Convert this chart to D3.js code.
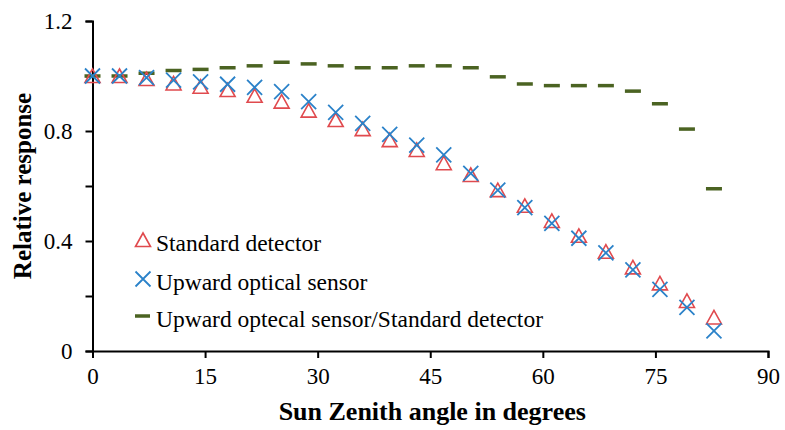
<!DOCTYPE html>
<html>
<head>
<meta charset="utf-8">
<script src="https://cdn.jsdelivr.net/npm/d3@7"></script>
</head>
<body style="margin:0">
<svg id="chart" width="785" height="430"></svg>
<script>
// sun zenith angles (degrees)
var angles = [0, 3.6, 7.2, 10.8, 14.4, 18, 21.6, 25.2, 28.8, 32.4, 36, 39.6,
              43.2, 46.8, 50.4, 54, 57.6, 61.2, 64.8, 68.4, 72, 75.6, 79.2, 82.8];
var standardDetector = [1.0, 1.0, 0.989, 0.973, 0.961, 0.949, 0.928, 0.907, 0.874, 0.840, 0.807, 0.767,
                        0.731, 0.683, 0.640, 0.585, 0.528, 0.473, 0.419, 0.361, 0.304, 0.246, 0.182, 0.122];
var upwardSensor = [1.0, 1.0, 0.994, 0.985, 0.979, 0.970, 0.959, 0.943, 0.907, 0.868, 0.828, 0.788,
                    0.749, 0.713, 0.646, 0.585, 0.521, 0.464, 0.410, 0.357, 0.295, 0.224, 0.159, 0.073];
var ratio = [1.0, 1.0, 1.01, 1.02, 1.024, 1.03, 1.037, 1.05, 1.044, 1.037, 1.03, 1.03,
             1.037, 1.037, 1.03, 0.997, 0.971, 0.965, 0.965, 0.965, 0.945, 0.899, 0.807, 0.59];
var xTicks = [0, 15, 30, 45, 60, 75, 90];
var yTicks = [0, 0.2, 0.4, 0.6, 0.8, 1.0, 1.2];
var yLabelled = [0, 0.4, 0.8, 1.2];
var seriesNames = ["Standard detector", "Upward optical sensor", "Upward optecal sensor/Standard detector"];

var RED = "#e04a4e", BLUE = "#2b82c9", GREEN = "#4b6322";

var svg = d3.select("#chart");
var x = d3.scaleLinear().domain([0, 90]).range([92.5, 768]);
var y = d3.scaleLinear().domain([0, 1.2]).range([351, 21]);

var setFont = function(sel, size, weight) {
    sel.style("font-family", function() { return "Times New Roman"; })
       .style("font-size", size + "px")
       .style("font-weight", weight || "normal");
}

// axes
var xAxis = d3.axisBottom(x).tickValues(xTicks).tickSize(7).tickPadding(10).tickFormat(d3.format("d"));
var gx = svg.append("g").attr("transform", "translate(0," + y(0) + ")").call(xAxis);
gx.select(".domain").attr("stroke", "#000").attr("stroke-width", 2);
gx.selectAll(".tick line").attr("stroke", "#000").attr("stroke-width", 2);
gx.selectAll(".tick text").attr("fill", "#000").call(setFont, 23);

var yAxis = d3.axisLeft(y).tickValues(yTicks).tickSize(7).tickPadding(13)
    .tickFormat(function(d) { return yLabelled.some(function(v) { return Math.abs(v - d) < 1e-9; }) ? d3.format("~g")(d) : ""; });
var gy = svg.append("g").attr("transform", "translate(" + x(0) + ",0)").call(yAxis);
gy.select(".domain").attr("stroke", "#000").attr("stroke-width", 2);
gy.selectAll(".tick line").attr("stroke", "#000").attr("stroke-width", 2);
gy.selectAll(".tick text").attr("fill", "#000").call(setFont, 23);

// marker shapes
var triPath = function(cx, cy) {
    return "M" + cx + "," + (cy - 7) + "L" + (cx + 7.5) + "," + (cy + 6.5) + "L" + (cx - 7.5) + "," + (cy + 6.5) + "Z";
}
var crossPath = function(cx, cy) {
    var s = 7.5;
    return "M" + (cx - s) + "," + (cy - s) + "L" + (cx + s) + "," + (cy + s) +
           "M" + (cx - s) + "," + (cy + s) + "L" + (cx + s) + "," + (cy - s);
}

var g = svg.append("g");

// ratio dashes
g.selectAll("line.ratio").data(angles).enter().append("line")
    .attr("class", "ratio")
    .attr("x1", function(d) { return x(d) - 8; })
    .attr("x2", function(d) { return x(d) + 8; })
    .attr("y1", function(d, i) { return y(ratio[i]); })
    .attr("y2", function(d, i) { return y(ratio[i]); })
    .attr("stroke", GREEN).attr("stroke-width", 3.5);

// standard detector triangles
g.selectAll("path.std").data(angles).enter().append("path")
    .attr("class", "std")
    .attr("d", function(d, i) { return triPath(x(d), y(standardDetector[i])); })
    .attr("fill", "none").attr("stroke", RED).attr("stroke-width", 1.6);

// upward sensor crosses
g.selectAll("path.up").data(angles).enter().append("path")
    .attr("class", "up")
    .attr("d", function(d, i) { return crossPath(x(d), y(upwardSensor[i])); })
    .attr("fill", "none").attr("stroke", BLUE).attr("stroke-width", 1.8);

// legend
var legend = svg.append("g");
var lx = 143, rows = [240, 279, 316];
legend.append("path").attr("d", triPath(lx, rows[0]))
    .attr("fill", "none").attr("stroke", RED).attr("stroke-width", 1.6);
legend.append("path").attr("d", crossPath(lx, rows[1]))
    .attr("fill", "none").attr("stroke", BLUE).attr("stroke-width", 1.8);
legend.append("line").attr("x1", lx - 8).attr("x2", lx + 7).attr("y1", rows[2]).attr("y2", rows[2])
    .attr("stroke", GREEN).attr("stroke-width", 3.5);
legend.selectAll("text").data(seriesNames).enter().append("text")
    .attr("x", 156)
    .attr("y", function(d, i) { return rows[i] + 11; })
    .attr("fill", "#000")
    .call(setFont, 23.5)
    .text(function(d) { return d; });

// axis titles
svg.append("text")
    .attr("x", (x(0) + x(90)) / 2 + 2).attr("y", 420)
    .attr("text-anchor", "middle")
    .call(setFont, 26, "bold")
    .text("Sun Zenith angle in degrees");

svg.append("text")
    .attr("transform", "translate(31,186) rotate(-90)")
    .attr("text-anchor", "middle")
    .call(setFont, 25, "bold")
    .text("Relative response");
</script>
</body>
</html>
